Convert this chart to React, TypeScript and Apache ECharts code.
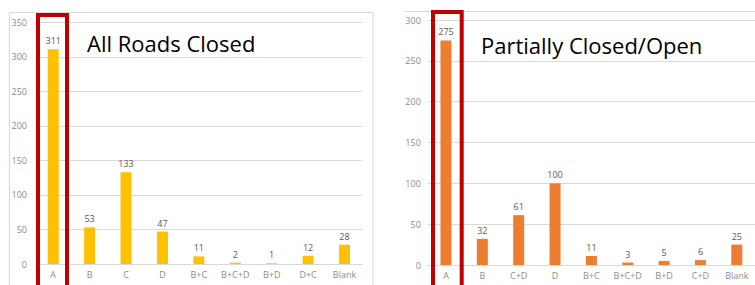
import React, { useEffect, useRef } from "react";
import * as echarts from "echarts";

const leftCategories = ["A", "B", "C", "D", "B+C", "B+C+D", "B+D", "D+C", "Blank"];
const leftValues = [311, 53, 133, 47, 11, 2, 1, 12, 28];
const rightCategories = ["A", "B", "C+D", "D", "B+C", "B+C+D", "B+D", "C+D", "Blank"];
const rightValues = [275, 32, 61, 100, 11, 3, 5, 6, 25];
const leftTitle = "All Roads Closed";
const rightTitle = "Partially Closed/Open";

const FONT = "Open Sans";
const axisLabelColor = "#8c8c8c";
const gridColor = "#d9d9d9";

export default function App() {
  const ref = useRef<HTMLDivElement>(null);
  useEffect(() => {
    if (!ref.current) return;
    const chart = echarts.init(ref.current, null, { renderer: "svg" });
    const xAxisCommon = {
      type: "category" as const,
      axisLine: { lineStyle: { color: gridColor } },
      axisTick: { show: false },
      axisLabel: { color: axisLabelColor, fontSize: 9, fontFamily: FONT, margin: 6, interval: 0 },
    };
    const yAxisCommon = {
      type: "value" as const,
      min: 0,
      interval: 50,
      axisLine: { show: false },
      axisTick: { show: false },
      splitLine: { lineStyle: { color: gridColor } },
      axisLabel: { color: axisLabelColor, fontSize: 9, fontFamily: FONT, margin: 8 },
    };
    const labelCommon = {
      show: true,
      position: "top" as const,
      distance: 4,
      color: "#595959",
      fontSize: 9,
      fontFamily: FONT,
    };
    chart.setOption({
      animation: false,
      backgroundColor: "#ffffff",
      grid: [
        { left: 35, top: 22.3, width: 327.7, height: 241.7 },
        { left: 427.8, top: 20, width: 328, height: 245 },
      ],
      xAxis: [
        { ...xAxisCommon, gridIndex: 0, data: leftCategories },
        { ...xAxisCommon, gridIndex: 1, data: rightCategories },
      ],
      yAxis: [
        { ...yAxisCommon, gridIndex: 0, max: 350 },
        { ...yAxisCommon, gridIndex: 1, max: 300, axisLabel: { ...yAxisCommon.axisLabel, margin: 7 } },
      ],
      series: [
        {
          type: "bar",
          xAxisIndex: 0,
          yAxisIndex: 0,
          data: leftValues,
          barWidth: 11,
          itemStyle: { color: "#FFC000" },
          label: labelCommon,
        },
        {
          type: "bar",
          xAxisIndex: 1,
          yAxisIndex: 1,
          data: rightValues,
          barWidth: 11,
          itemStyle: { color: "#ED7D31" },
          label: labelCommon,
        },
      ],
      graphic: [
        {
          type: "rect",
          shape: { x: 9.5, y: 12.5, width: 363.5, height: 300 },
          style: { fill: "none", stroke: gridColor, lineWidth: 1 },
          z: 0,
        },
        {
          type: "line",
          shape: { x1: 405, y1: 11.5, x2: 760, y2: 11.5 },
          style: { stroke: gridColor, lineWidth: 1 },
        },
        {
          type: "rect",
          shape: { x: 38, y: 15, width: 29, height: 300 },
          style: { fill: "none", stroke: "#C00000", lineWidth: 4 },
          z: 100,
        },
        {
          type: "rect",
          shape: { x: 433, y: 12, width: 28.7, height: 300 },
          style: { fill: "none", stroke: "#C00000", lineWidth: 4 },
          z: 100,
        },
        {
          type: "text",
          x: 87,
          y: 53.5,
          style: { text: leftTitle, font: `22px ${FONT}`, fill: "#000000", textVerticalAlign: "bottom" },
          z: 100,
        },
        {
          type: "text",
          x: 481,
          y: 55.5,
          style: { text: rightTitle, font: `22px ${FONT}`, fill: "#000000", textVerticalAlign: "bottom" },
          z: 100,
        },
      ],
    });
    return () => chart.dispose();
  }, []);
  return <div ref={ref} style={{ position: "absolute", left: 0, top: 0, width: 755, height: 285 }} />;
}
